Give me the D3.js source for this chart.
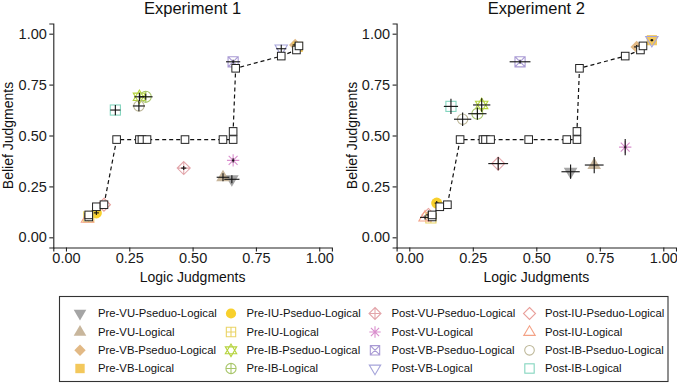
<!DOCTYPE html>
<html lang="en">
<head>
<meta charset="UTF-8">
<title>Logic vs Belief Judgments</title>
<script src="https://d3js.org/d3.v7.min.js"></script>
<style>
  body { margin: 0; background: #fff; }
  svg { display: block; font-family: "Liberation Sans", Arial, sans-serif; }
</style>
</head>
<body>
<svg width="677" height="385"></svg>
<script>
// conditions (legend order)
const conditions = [
  "Pre-VU-Pseduo-Logical", "Pre-VU-Logical", "Pre-VB-Pseduo-Logical", "Pre-VB-Logical",
  "Pre-IU-Pseduo-Logical", "Pre-IU-Logical", "Pre-IB-Pseduo-Logical", "Pre-IB-Logical",
  "Post-VU-Pseduo-Logical", "Post-VU-Logical", "Post-VB-Pseduo-Logical", "Post-VB-Logical",
  "Post-IU-Pseduo-Logical", "Post-IU-Logical", "Post-IB-Pseduo-Logical", "Post-IB-Logical"
];
const shapes = [
  "triDownFill", "triUpFill", "diamondFill", "squareFill",
  "circleFill", "squarePlus", "starDavid", "circlePlus",
  "diamondPlus", "asterisk", "squareCross", "triDown",
  "diamond", "triUp", "circle", "square"
];
const colors = [
  "#a5a5a5", "#c8b69c", "#e2b985", "#f3c85c",
  "#f8d02c", "#ead466", "#b5d33c", "#a8c66a",
  "#e3a6ab", "#d98ecd", "#a99ad4", "#a5a4da",
  "#e9a09b", "#f4a286", "#bdb798", "#84d5bf"
];

// Experiment 1
const exp1X   = [0.655, 0.620, 0.905, 0.915, 0.120, 0.090, 0.290, 0.315, 0.465, 0.660, 0.660, 0.850, 0.150, 0.085, 0.288, 0.195];
const exp1Y   = [0.285, 0.295, 0.945, 0.935, 0.120, 0.100, 0.690, 0.690, 0.340, 0.378, 0.862, 0.926, 0.160, 0.092, 0.645, 0.625];
const exp1Xse = [0.030, 0.025, 0.010, 0.010, 0.010, 0.010, 0.020, 0.027, 0.010, 0.005, 0.028, 0.020, 0.010, 0.010, 0.024, 0.020];
const exp1Yse = [0.020, 0.020, 0.010, 0.010, 0.010, 0.015, 0.020, 0.015, 0.010, 0.010, 0.010, 0.020, 0.015, 0.010, 0.026, 0.025];

// Experiment 2
const exp2X   = [0.635, 0.728, 0.895, 0.955, 0.108, 0.085, 0.285, 0.268, 0.350, 0.850, 0.436, 0.955, 0.075, 0.062, 0.210, 0.164];
const exp2Y   = [0.322, 0.355, 0.935, 0.968, 0.168, 0.095, 0.650, 0.607, 0.362, 0.443, 0.862, 0.968, 0.110, 0.098, 0.580, 0.643];
const exp2Xse = [0.036, 0.037, 0.010, 0.005, 0.008, 0.010, 0.034, 0.036, 0.039, 0.005, 0.041, 0.005, 0.010, 0.020, 0.034, 0.028];
const exp2Yse = [0.035, 0.040, 0.010, 0.005, 0.010, 0.010, 0.033, 0.030, 0.033, 0.040, 0.010, 0.005, 0.020, 0.010, 0.033, 0.037];

// model predictions (white squares joined by dashed line)
const predX = [0.09, 0.09, 0.12, 0.15, 0.20, 0.29, 0.30, 0.32, 0.47, 0.62, 0.66, 0.66, 0.67, 0.85, 0.91, 0.92];
const predY = [0.10, 0.11, 0.15, 0.16, 0.48, 0.48, 0.48, 0.48, 0.48, 0.48, 0.48, 0.52, 0.83, 0.89, 0.92, 0.94];

const axisTicks = [0, 0.25, 0.5, 0.75, 1];

const svg = d3.select("svg");

// marker drawing, ggplot-ish pch shapes
function drawShape(g, type, col, r) {
  const sw = 1.1;
  const open = (sel) => sel.attr("fill", "none").attr("stroke", col).attr("stroke-width", sw);
  const fill = (sel) => sel.attr("fill", col).attr("stroke", "none");
  const tri = (dir, k) => {
    const h = r * k;
    return dir > 0
      ? `M${-h},${h * 0.6}L${h},${h * 0.6}L0,${-h * 1.1}Z`
      : `M${-h},${-h * 0.6}L${h},${-h * 0.6}L0,${h * 1.1}Z`;
  };
  const dia = (k) => `M0,${-r * k}L${r * k},0L0,${r * k}L${-r * k},0Z`;
  const s = r * 0.78;
  switch (type) {
    case "triDownFill": fill(g.append("path").attr("d", tri(-1, 1.05))); break;
    case "triUpFill": fill(g.append("path").attr("d", tri(1, 1.05))); break;
    case "diamondFill": fill(g.append("path").attr("d", dia(0.95))); break;
    case "squareFill": fill(g.append("rect").attr("x", -s).attr("y", -s).attr("width", 2 * s).attr("height", 2 * s)); break;
    case "circleFill": fill(g.append("circle").attr("r", r * 0.85)); break;
    case "squarePlus":
      open(g.append("path").attr("d", `M${-s},${-s}H${s}V${s}H${-s}ZM0,${-s}V${s}M${-s},0H${s}`)); break;
    case "starDavid":
      open(g.append("path").attr("d", tri(1, 0.95) + tri(-1, 0.95))); break;
    case "circlePlus":
      open(g.append("path").attr("d", `M${-r * 0.85},0A${r * 0.85},${r * 0.85} 0 1,0 ${r * 0.85},0A${r * 0.85},${r * 0.85} 0 1,0 ${-r * 0.85},0M0,${-r * 0.85}V${r * 0.85}M${-r * 0.85},0H${r * 0.85}`)); break;
    case "diamondPlus":
      open(g.append("path").attr("d", dia(1) + `M0,${-r}V${r}M${-r},0H${r}`)); break;
    case "asterisk": {
      const a = r * 0.95, b = a * 0.72;
      open(g.append("path").attr("d", `M0,${-a}V${a}M${-a},0H${a}M${-b},${-b}L${b},${b}M${-b},${b}L${b},${-b}`)); break;
    }
    case "squareCross":
      open(g.append("path").attr("d", `M${-s},${-s}H${s}V${s}H${-s}ZM${-s},${-s}L${s},${s}M${-s},${s}L${s},${-s}`)); break;
    case "triDown": open(g.append("path").attr("d", tri(-1, 0.95))); break;
    case "diamond": open(g.append("path").attr("d", dia(1))); break;
    case "triUp": open(g.append("path").attr("d", tri(1, 0.95))); break;
    case "circle": open(g.append("circle").attr("r", r * 0.8)); break;
    case "square": open(g.append("rect").attr("x", -s).attr("y", -s).attr("width", 2 * s).attr("height", 2 * s)); break;
  }
}

function panel(left, right, title, xs, ys, xse, yse) {
  const x = d3.scaleLinear().domain([-0.05, 1.05]).range([left, right]);
  const y = d3.scaleLinear().domain([-0.05, 1.05]).range([247.5, 23.5]);
  const g = svg.append("g");

  // axes
  const xAxis = d3.axisBottom(x).tickValues(axisTicks).tickFormat(d3.format(".2f")).tickSize(4).tickPadding(1);
  const yAxis = d3.axisLeft(y).tickValues(axisTicks).tickFormat(d3.format(".2f")).tickSize(4).tickPadding(2.5);
  const gx = g.append("g").attr("transform", `translate(0,${y(-0.05)})`).call(xAxis);
  const gy = g.append("g").attr("transform", `translate(${x(-0.05)},0)`).call(yAxis);
  [gx, gy].forEach(a => {
    a.select(".domain").attr("stroke", "#222").attr("stroke-width", 1.1);
    a.selectAll(".tick line").attr("stroke", "#222").attr("stroke-width", 1.1);
    a.selectAll(".tick text").attr("fill", "#1a1a1a").style("font-size", "14.5px");
  });

  g.append("text").attr("x", (left + right) / 2).attr("y", 13.5)
    .attr("text-anchor", "middle").attr("fill", "#111").style("font-size", "16.5px").text(title);
  g.append("text").attr("x", (left + right) / 2).attr("y", 282)
    .attr("text-anchor", "middle").attr("fill", "#111").style("font-size", "14px").text("Logic Judgments");
  g.append("text").attr("transform", `translate(${left - 45},${y(0.5)}) rotate(-90)`)
    .attr("text-anchor", "middle").attr("dy", "0.35em").attr("fill", "#111").style("font-size", "14px").text("Belief Judgments");

  // points
  conditions.forEach((c, i) => {
    const m = g.append("g").attr("transform", `translate(${x(xs[i])},${y(ys[i])})`);
    drawShape(m, shapes[i], colors[i], 6.5);
  });

  // error bars
  conditions.forEach((c, i) => {
    g.append("line").attr("x1", x(xs[i] - xse[i])).attr("x2", x(xs[i] + xse[i]))
      .attr("y1", y(ys[i])).attr("y2", y(ys[i])).attr("stroke", "#111").attr("stroke-width", 1.1);
    g.append("line").attr("x1", x(xs[i])).attr("x2", x(xs[i]))
      .attr("y1", y(ys[i] - yse[i])).attr("y2", y(ys[i] + yse[i])).attr("stroke", "#111").attr("stroke-width", 1.1);
  });

  // model line + squares
  const pts = predX.map((v, i) => [v, predY[i]]);
  g.append("path").datum(pts)
    .attr("d", d3.line().x(d => x(d[0])).y(d => y(d[1])))
    .attr("fill", "none").attr("stroke", "#111").attr("stroke-width", 1.2).attr("stroke-dasharray", "4,3");
  g.selectAll(".pred").data(pts).enter().append("rect")
    .attr("x", d => x(d[0]) - 3.8).attr("y", d => y(d[1]) - 3.8)
    .attr("width", 7.6).attr("height", 7.6)
    .attr("fill", "#fff").attr("stroke", "#222").attr("stroke-width", 1);
}

panel(53.3, 331.9, "Experiment 1", exp1X, exp1Y, exp1Xse, exp1Yse);
panel(396.6, 676, "Experiment 2", exp2X, exp2Y, exp2Xse, exp2Yse);

// legend
const leg = svg.append("g");
leg.append("rect").attr("x", 59.5).attr("y", 296.5).attr("width", 608.5).attr("height", 85)
  .attr("fill", "#fff").attr("stroke", "#333").attr("stroke-width", 1.1);
const colSym = [80, 231, 375, 529.5];
const colTxt = [98, 246.5, 391.5, 545];
const rowY = [313.5, 332, 350.3, 368.5];
conditions.forEach((c, i) => {
  const col = Math.floor(i / 4), row = i % 4;
  const m = leg.append("g").attr("transform", `translate(${colSym[col]},${rowY[row]})`);
  drawShape(m, shapes[i], colors[i], 6);
  leg.append("text").attr("x", colTxt[col]).attr("y", rowY[row]).attr("dy", "0.35em")
    .attr("fill", "#111").style("font-size", "11.3px").text(c);
});
</script>
</body>
</html>
